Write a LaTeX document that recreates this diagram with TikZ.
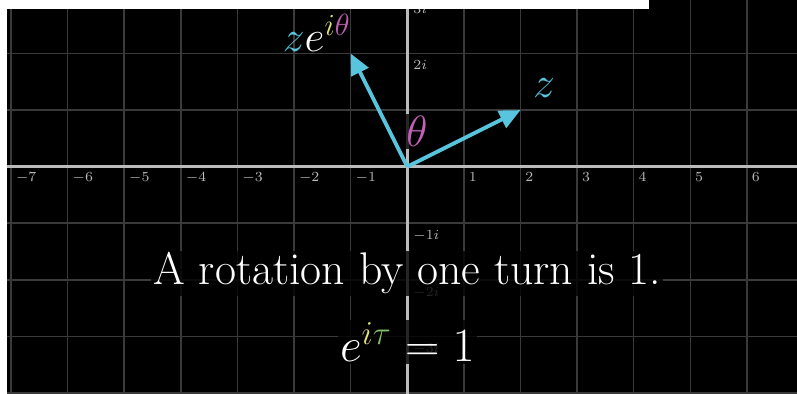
\RequirePackage{fix-cm}
\documentclass[tikz,border=0pt]{standalone}
\usetikzlibrary{arrows.meta}
\definecolor{vecblue}{HTML}{58C4DD}
\definecolor{iyellow}{HTML}{E2E27A}
\definecolor{thpink}{HTML}{C45FB8}
\definecolor{taugreen}{HTML}{83C167}
\definecolor{gridgray}{HTML}{3A3A3A}
\definecolor{axisgray}{HTML}{BBBBBB}
\tikzset{
  vec/.style={draw=vecblue,line width=1.9pt,-{Triangle[length=0.37cm,width=0.33cm]}},
  numlabel/.style={anchor=north west,inner sep=0pt,text=axisgray,font=\fontsize{7}{8}\selectfont},
  bgtext/.style={fill=black,fill opacity=0.8,text opacity=1,inner sep=1pt,text=white},
  mathlabel/.style={anchor=base,inner sep=1pt,font=\fontsize{22}{26}\selectfont},
}

\begin{document}
\begin{tikzpicture}
	\useasboundingbox (-7.196,-4.016) rectangle (6.885,2.945);
	\fill[black] (-7.196,-4.016) rectangle (6.885,2.945);
	\draw[gridgray,line width=0.8pt] (-7.196,-4.016) grid (6.885,2.945);
	\coordinate (O) at (0,0);
	\coordinate (Z) at (2,1);
	\coordinate (W) at (-1,2);
	\draw[axisgray,line width=1.5pt] (-7.196,0) -- (6.885,0);
	\draw[axisgray,line width=1.5pt] (0,-4.016) -- (0,2.945);
	\foreach \i in {-7,-6,-5,-4,-3,-2,-1,1,2,3,4,5,6}
		\node[numlabel] (x\i) at (\i+0.08,-0.1) {$\i$};
	\foreach \j in {-3,-2,-1,2,3}
		\node[numlabel] (y\j) at (0.1,\j-0.12) {$\j i$};
	\draw[vec] (O)--(Z);
	\draw[vec] (O)--(W);
	\node[mathlabel,text=vecblue] (Lz) at (2.415,1.23) {$z$};
	\node[mathlabel,text=white] (Lw) at (-1.6,2.03) {${\color{vecblue}z}e^{{\color{iyellow}i}{\color{thpink}\theta}}$};
	\node[mathlabel,bgtext,text=thpink] (Lt) at (0.17,0.35) {$\theta$};
	% text below
	\node[bgtext,anchor=base,font=\fontsize{23}{27}\selectfont] (T1) at (0,-2.09) {A rotation by one turn is 1.};
	\node[bgtext,anchor=base,font=\fontsize{24}{28}\selectfont] (T2) at (0,-3.445) {$e^{{\color{iyellow}i}{\color{taugreen}\tau}}=1$};
	% white edges of the frame
	\fill[white] (-7.196,-4.016) rectangle (-7.072,2.945);
	\fill[white] (-7.196,2.786) rectangle (4.270,2.945);
\end{tikzpicture}
\end{document}
